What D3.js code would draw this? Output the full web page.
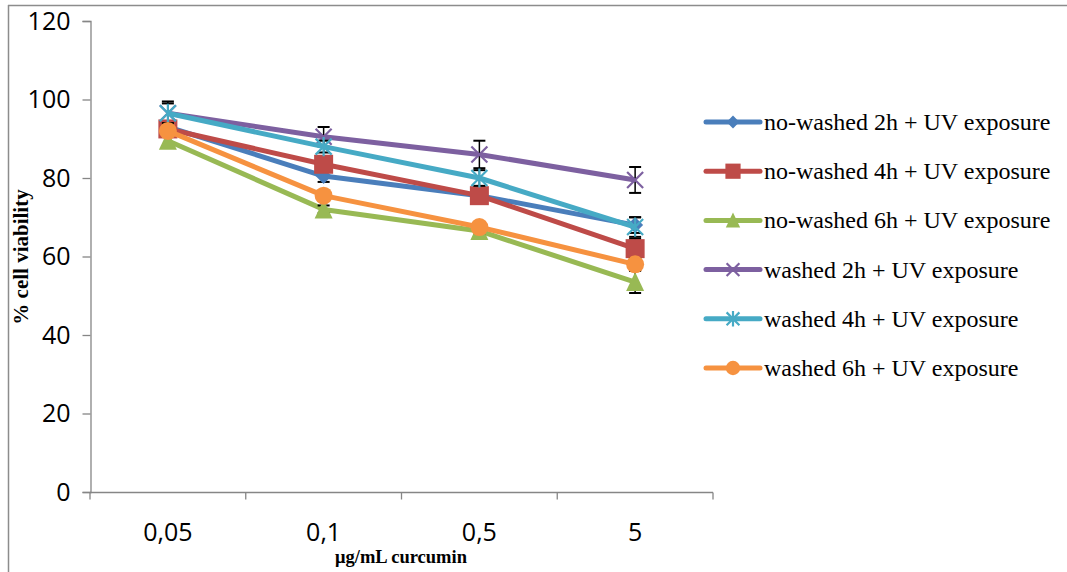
<!DOCTYPE html>
<html><head><meta charset="utf-8">
<script src="https://cdn.jsdelivr.net/npm/d3@7"></script>
<style>body{margin:0;background:#fff}svg{display:block}</style>
</head><body>
<svg id="c" width="1067" height="572"></svg>
<script>
const categories = ["0,05", "0,1", "0,5", "5"];
const yTicks = [0, 20, 40, 60, 80, 100, 120];
const seriesNames = ["no-washed 2h + UV exposure", "no-washed 4h + UV exposure", "no-washed 6h + UV exposure",
  "washed 2h + UV exposure", "washed 4h + UV exposure", "washed 6h + UV exposure"];
const noWashed2h = [93, 80.5, 75.5, 68];
const noWashed4h = [92.5, 83.5, 75.5, 62];
const noWashed6h = [89.5, 72, 66.5, 53.5];
const washed2h = [96.5, 90.5, 86, 79.5];
const washed4h = [96.5, 88, 80, 67.5];
const washed6h = [92, 75.5, 67.5, 58];
const err2hNW = [1.5, 1.5, 1.5, 2];
const err4hNW = [2, 1.5, 2, 2.5];
const err6hNW = [1.5, 1, 1, 2.8];
const err2hW = [3, 2.5, 3.5, 3.3];
const err4hW = [2.5, 1.5, 2, 2.5];
const err6hW = [1.5, 1, 1, 1.5];

const values = [noWashed2h, noWashed4h, noWashed6h, washed2h, washed4h, washed6h];
const errors = [err2hNW, err4hNW, err6hNW, err2hW, err4hW, err6hW];
const colors = ["#4A7EBB", "#BE4B48", "#98B954", "#7D60A0", "#46AAC5", "#F69240"];
const markers = ["diamond", "square", "triangle", "x", "star", "circle"];

const svg = d3.select("#c");
svg.append("line").attr("x1", 8).attr("x2", 1067).attr("y1", 5.5).attr("y2", 5.5).attr("stroke", "#8c8c8c").attr("stroke-width", 1.5);
svg.append("line").attr("x1", 8.5).attr("x2", 8.5).attr("y1", 5).attr("y2", 572).attr("stroke", "#8c8c8c").attr("stroke-width", 1.5);

const x = d3.scalePoint().domain(categories).range([90, 713]).padding(0.5);
const y = d3.scaleLinear().domain([0, 120]).range([492, 21]);

const tickFont = "Open Sans, sans-serif";
const yAxis = svg.append("g").attr("transform", "translate(90.5,0)")
  .call(d3.axisLeft(y).tickValues(yTicks).tickSize(8).tickPadding(12));
yAxis.select(".domain").attr("stroke", "#868686").attr("stroke-width", 1.3);
yAxis.selectAll(".tick line").attr("stroke", "#868686").attr("stroke-width", 1.3);
yAxis.selectAll(".tick text").attr("font-family", tickFont).attr("font-size", 25).attr("fill", "#000");

const xAxisG = svg.append("g").attr("transform", "translate(0,492.5)");
xAxisG.append("line").attr("x1", 90).attr("x2", 713).attr("stroke", "#868686").attr("stroke-width", 1.3);
const bounds = d3.range(categories.length + 1).map(i => 90 + i * x.step());
xAxisG.selectAll("line.t").data(bounds).join("line").attr("class", "t")
  .attr("x1", d => d).attr("x2", d => d).attr("y1", 0).attr("y2", 7)
  .attr("stroke", "#868686").attr("stroke-width", 1.3);
xAxisG.selectAll("text").data(categories).join("text")
  .attr("x", d => x(d)).attr("y", 48).attr("text-anchor", "middle")
  .attr("font-family", tickFont).attr("font-size", 25).text(d => d);

svg.append("text").attr("transform", "translate(28,257) rotate(-90)").attr("text-anchor", "middle")
  .attr("font-family", "Liberation Serif, Times New Roman, serif").attr("font-weight", "bold").attr("font-size", 21)
  .text("% cell viability");
svg.append("text").attr("x", 401).attr("y", 563).attr("text-anchor", "middle")
  .attr("font-family", "Liberation Serif, Times New Roman, serif").attr("font-weight", "bold").attr("font-size", 18.5)
  .text("μg/mL curcumin");

function drawMarker(g, type, cx, cy, color, s) {
  s = s || 1;
  if (type === "diamond") {
    const r = 8 * s;
    g.append("path").attr("d", `M${cx},${cy - r}L${cx + r},${cy}L${cx},${cy + r}L${cx - r},${cy}Z`).attr("fill", color);
  } else if (type === "square") {
    const h = 9.5 * s;
    g.append("rect").attr("x", cx - h).attr("y", cy - h).attr("width", 2 * h).attr("height", 2 * h).attr("fill", color);
  } else if (type === "triangle") {
    const h = 9 * s;
    g.append("path").attr("d", `M${cx},${cy - h * 1.1}L${cx + h},${cy + h}L${cx - h},${cy + h}Z`).attr("fill", color);
  } else if (type === "circle") {
    g.append("circle").attr("cx", cx).attr("cy", cy).attr("r", 9 * s).attr("fill", color);
  } else if (type === "x") {
    const r = 8 * s;
    g.append("path").attr("d", `M${cx - r},${cy - r}L${cx + r},${cy + r}M${cx + r},${cy - r}L${cx - r},${cy + r}`)
      .attr("stroke", color).attr("stroke-width", 2.2).attr("fill", "none");
  } else if (type === "star") {
    const r = 8 * s;
    g.append("path").attr("d", `M${cx - r},${cy - r}L${cx + r},${cy + r}M${cx + r},${cy - r}L${cx - r},${cy + r}M${cx},${cy - r * 1.2}L${cx},${cy + r * 1.2}`)
      .attr("stroke", color).attr("stroke-width", 2.2).attr("fill", "none");
  }
}

const line = d3.line().x((d, i) => x(categories[i])).y(d => y(d));
const plot = svg.append("g");
values.forEach((vals, si) => {
  const g = plot.append("g");
  g.append("path").datum(vals).attr("d", line).attr("fill", "none")
    .attr("stroke", colors[si]).attr("stroke-width", 5).attr("stroke-linejoin", "round");
  vals.forEach((v, i) => {
    const cx = x(categories[i]), e = errors[si][i];
    const y1 = y(v + e), y2 = y(v - e);
    g.append("line").attr("x1", cx).attr("x2", cx).attr("y1", y1).attr("y2", y2).attr("stroke", "#000").attr("stroke-width", 1.5);
    [y1, y2].forEach(yy => g.append("line").attr("x1", cx - 6).attr("x2", cx + 6).attr("y1", yy).attr("y2", yy)
      .attr("stroke", "#000").attr("stroke-width", 2));
  });
  vals.forEach((v, i) => drawMarker(g, markers[si], x(categories[i]), y(v), colors[si]));
});

const lg = svg.append("g");
seriesNames.forEach((name, i) => {
  const cy = 122 + i * 49.2;
  lg.append("line").attr("x1", 706).attr("x2", 760).attr("y1", cy).attr("y2", cy)
    .attr("stroke", colors[i]).attr("stroke-width", 5).attr("stroke-linecap", "round");
  drawMarker(lg, markers[i], 733, cy, colors[i], 0.8);
  lg.append("text").attr("x", 764).attr("y", cy + 8)
    .attr("font-family", "Liberation Serif, Times New Roman, serif").attr("font-size", 24).text(name);
});
</script>
</body></html>
